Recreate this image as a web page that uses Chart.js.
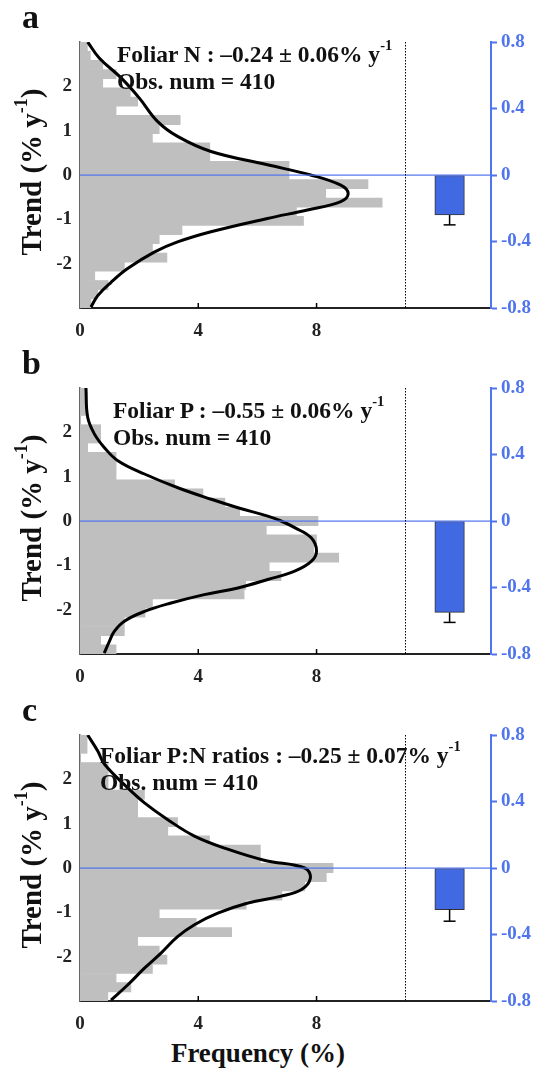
<!DOCTYPE html>
<html>
<head>
<meta charset="utf-8">
<script src="https://cdn.jsdelivr.net/npm/chart.js@4.4.1/dist/chart.umd.min.js"></script>
<style>
  body { margin: 0; background: #fff; }
  #fig { position: relative; width: 539px; height: 1070px; font-family: "Liberation Serif", "Times New Roman", serif; font-weight: bold; color: #111; }
  .panel { position: absolute; left: 0; width: 539px; height: 345px; }
  .panel canvas { position: absolute; left: 0; top: 0; }
  .txt { position: absolute; white-space: nowrap; }
  .txt sup { font-size: 0.62em; line-height: 0; position: relative; top: -0.2em; }
  .letter { font-size: 34px; line-height: 1; left: 22px; }
  .note { font-size: 23.5px; line-height: 27px; }
  .ytitle { font-size: 29px; line-height: 1; transform: translate(-50%, -50%) rotate(-90deg); }
  .xtitle { font-size: 27px; line-height: 1; transform: translateX(-50%); }
</style>
</head>
<body>
<div id="fig"></div>
<script>
// histogram bins (trend, % per year), shared by the three panels
const trendBins = [-2.897, -2.690, -2.483, -2.276, -2.069, -1.862, -1.655, -1.448, -1.241, -1.034,
  -0.828, -0.621, -0.414, -0.207, 0, 0.207, 0.414, 0.621, 0.828, 1.034,
  1.241, 1.448, 1.655, 1.862, 2.069, 2.276, 2.483, 2.690, 2.897];

// frequency (%) per bin, bottom to top
const freqN = [0.37, 0.6, 0.95, 0.5, 1.5, 2.94, 2.45, 2.68, 3.45, 7.56, 7.32, 10.22, 8.31, 9.74, 7.07,
  7.07, 4.39, 4.39, 2.45, 2.68, 3.39, 1.22, 1.95, 1.7, 0.77, 1.22, 0.77, 0.35, 0.25];
const freqP = [1.22, 0.7, 1.5, 1.5, 2.2, 2.45, 5.55, 5.6, 6.8, 6.4, 8.75, 7.9, 8.0, 6.3, 8.05,
  5.4, 4.9, 4.16, 3.2, 1.22, 1.22, 1.22, 0.26, 0.7, 0.7, 0, 0.24, 0.24, 0.24];
const freqPN = [0.94, 1.72, 1.22, 2.45, 2.94, 2.68, 1.95, 5.13, 3.93, 2.68, 5.62, 6.83, 7.6, 8.33, 8.56,
  6.1, 6.1, 4.38, 2.97, 3.3, 1.95, 1.95, 2.18, 0.95, 0.95, 0.95, 0, 0.24, 0.24];

// fitted density curves: trend values and frequency values
const curveTrendN = [-2.98, -2.72, -2.42, -2.11, -1.74, -1.51, -1.28, -0.98, -0.79, -0.6, -0.42, -0.23, 0.0, 0.23, 0.53, 0.87, 1.21, 1.74, 2.19, 2.64, 3.0];
const curveFreqN  = [0.37, 0.6, 1.05, 1.61, 2.51, 3.3, 4.43, 6.34, 7.69, 8.82, 9.07, 8.82, 7.8, 6.34, 4.43, 3.3, 2.62, 2.0, 1.39, 0.65, 0.26];
const curveTrendP = [-2.98, -2.72, -2.49, -2.26, -2.04, -1.85, -1.66, -1.51, -1.32, -1.13, -0.91, -0.68, -0.38, -0.15, 0.0, 0.11, 0.30, 0.49, 0.75, 1.06, 1.36, 1.66, 1.96, 2.34, 3.0];
const curveFreqP  = [0.82, 0.99, 1.16, 1.5, 2.18, 3.08, 4.2, 5.34, 6.35, 7.26, 7.82, 8.0, 7.82, 7.26, 6.8, 6.35, 5.34, 4.44, 3.31, 2.18, 1.28, 0.82, 0.49, 0.26, 0.2];
const curveTrendPN = [-2.98, -2.64, -2.26, -1.92, -1.55, -1.28, -1.02, -0.79, -0.64, -0.49, -0.23, 0.0, 0.17, 0.43, 0.72, 1.09, 1.47, 1.81, 2.34, 2.64, 3.0];
const curveFreqPN  = [1.05, 1.61, 2.18, 2.74, 3.3, 3.87, 4.66, 5.68, 6.77, 7.48, 7.79, 7.6, 6.26, 4.97, 3.87, 2.97, 2.18, 1.61, 0.83, 0.6, 0.26];

// mean trend and standard error (% per year)
const traits = ['Foliar N', 'Foliar P', 'Foliar P:N ratios'];
const meanTrend = [-0.24, -0.55, -0.25];
const seTrend = [0.06, 0.06, 0.07];
const obsNum = [410, 410, 410];
const panelLetters = ['a', 'b', 'c'];

const freqTicks = [0, 4, 8];
const freqMax = 13.9;
const dividerAt = 11;
const meanBarAt = 12.5;

const BLUE = '#4f74ee';
const FONT = 'Liberation Serif';

const fig = document.getElementById('fig');

// zero line, dotted divider and inward ticks of the frequency axis
const guides = {
  id: 'guides',
  afterDatasetsDraw(chart) {
    const { ctx, chartArea: a, scales } = chart;
    ctx.save();
    const y0 = Math.round(scales.y2.getPixelForValue(0));
    ctx.fillStyle = BLUE;
    ctx.fillRect(a.left, y0 - 0.5, a.right - a.left, 1.2);

    const xd = Math.round(scales.x.getPixelForValue(dividerAt)) + 0.5;
    ctx.strokeStyle = '#000';
    ctx.lineWidth = 1;
    ctx.setLineDash([1.5, 1.5]);
    ctx.beginPath(); ctx.moveTo(xd, a.top); ctx.lineTo(xd, a.bottom); ctx.stroke();
    ctx.setLineDash([]);

    ctx.lineWidth = 1.5;
    scales.x.ticks.forEach(t => {
      if (t.value <= 0) return;
      const px = scales.x.getPixelForValue(t.value);
      ctx.beginPath(); ctx.moveTo(px, a.bottom); ctx.lineTo(px, a.bottom - 5); ctx.stroke();
    });
    ctx.restore();
  }
};

function addText(cls, html, left, top) {
  const d = document.createElement('div');
  d.className = 'txt ' + cls;
  d.innerHTML = html;
  d.style.left = left + 'px';
  d.style.top = top + 'px';
  fig.appendChild(d);
  return d;
}

function makePanel(i, freqs, cTrend, cFreq, top, noteLeft, noteTop) {
  const div = document.createElement('div');
  div.className = 'panel';
  div.style.top = top + 'px';
  const canvas = document.createElement('canvas');
  canvas.width = 539; canvas.height = 345;
  div.appendChild(canvas);
  fig.appendChild(div);

  const tickFont = { family: FONT, weight: 'bold', size: 19 };

  new Chart(canvas, {
    type: 'bar',
    data: {
      datasets: [
        {
          type: 'bar', indexAxis: 'y', xAxisID: 'x', yAxisID: 'y', order: 4, grouped: false,
          data: trendBins.map((b, k) => ({ x: freqs[k], y: b })),
          backgroundColor: '#bfbfbf', borderWidth: 0,
          categoryPercentage: 1, barPercentage: 1
        },
        {
          type: 'line', indexAxis: 'y', xAxisID: 'x', yAxisID: 'y', order: 1,
          data: cTrend.map((t, k) => ({ x: cFreq[k], y: t })),
          borderColor: '#000', borderWidth: 3, pointRadius: 0, tension: 0.4, fill: false
        },
        {
          type: 'bar', indexAxis: 'x', xAxisID: 'xb', yAxisID: 'y2', order: 3, grouped: false,
          data: [{ x: meanBarAt, y: meanTrend[i] }],
          backgroundColor: '#4169e1', borderColor: '#333', borderWidth: 1, borderSkipped: false,
          categoryPercentage: 1, barPercentage: 1
        },
        {
          type: 'line', xAxisID: 'xb', yAxisID: 'y2', order: 2,
          data: [{ x: meanBarAt, y: meanTrend[i] }, { x: meanBarAt, y: meanTrend[i] - seTrend[i] }],
          borderColor: '#000', borderWidth: 1.5, tension: 0,
          pointStyle: 'line', pointRadius: [0, 6], pointBorderWidth: 1.5, pointBorderColor: '#000'
        }
      ]
    },
    options: {
      responsive: false,
      animation: false,
      events: [],
      layout: { padding: { top: 42, left: 0, right: 0, bottom: 0 } },
      plugins: { legend: { display: false }, tooltip: { enabled: false } },
      scales: {
        x: {
          type: 'linear', axis: 'x', position: 'bottom', min: 0, max: freqMax, offset: false,
          afterBuildTicks: s => { s.ticks = freqTicks.map(v => ({ value: v })); },
          afterFit: s => { s.height = 37; },
          grid: { display: false, drawTicks: false, offset: false },
          border: { display: true, color: '#222', width: 2 },
          ticks: { font: tickFont, color: '#222', padding: 12 }
        },
        xb: {
          type: 'linear', axis: 'x', position: 'bottom', min: 0, max: freqMax, display: false, offset: false,
          grid: { offset: false },
          ticks: { stepSize: 1 }
        },
        y: {
          type: 'linear', axis: 'y', position: 'left', min: -3, max: 3, offset: false,
          ticks: { stepSize: 1, font: tickFont, color: '#222', padding: 8 },
          afterBuildTicks: s => { s.ticks = s.ticks.filter(t => Math.abs(t.value) < 2.5); },
          afterFit: s => { s.width = 80; },
          grid: { display: false, drawTicks: false, offset: false },
          border: { display: true, color: '#666', width: 1.5 }
        },
        y2: {
          type: 'linear', axis: 'y', position: 'right', min: -0.8, max: 0.8, offset: false,
          ticks: {
            stepSize: 0.4, font: tickFont, color: BLUE, padding: 4,
            callback: v => (Math.abs(v) < 1e-9 ? '0' : v.toFixed(1))
          },
          afterFit: s => { s.width = 48; },
          grid: { drawOnChartArea: false, drawTicks: true, tickLength: 6, tickColor: BLUE, tickWidth: 2, offset: false },
          border: { display: true, color: BLUE, width: 2 }
        }
      }
    },
    plugins: [guides]
  });

  // panel letter, annotation and left axis title
  addText('letter', panelLetters[i], 22, top - 0.5);
  const m = meanTrend[i];
  addText('note',
    traits[i] + ' : ' + (m < 0 ? '\u2013' : '') + Math.abs(m).toFixed(2) + ' \u00b1 ' + seTrend[i].toFixed(2) +
    '% y<sup>-1</sup><br>Obs. num = ' + obsNum[i], noteLeft, noteTop);
  addText('ytitle', 'Trend (% y<sup>-1</sup>)', 31, top + 172);
}

makePanel(0, freqN, curveTrendN, curveFreqN, 0, 117, 41);
makePanel(1, freqP, curveTrendP, curveFreqP, 346, 113, 397);
makePanel(2, freqPN, curveTrendPN, curveFreqPN, 693, 100, 742);

addText('xtitle', 'Frequency (%)', 258, 1040);
</script>
</body>
</html>
